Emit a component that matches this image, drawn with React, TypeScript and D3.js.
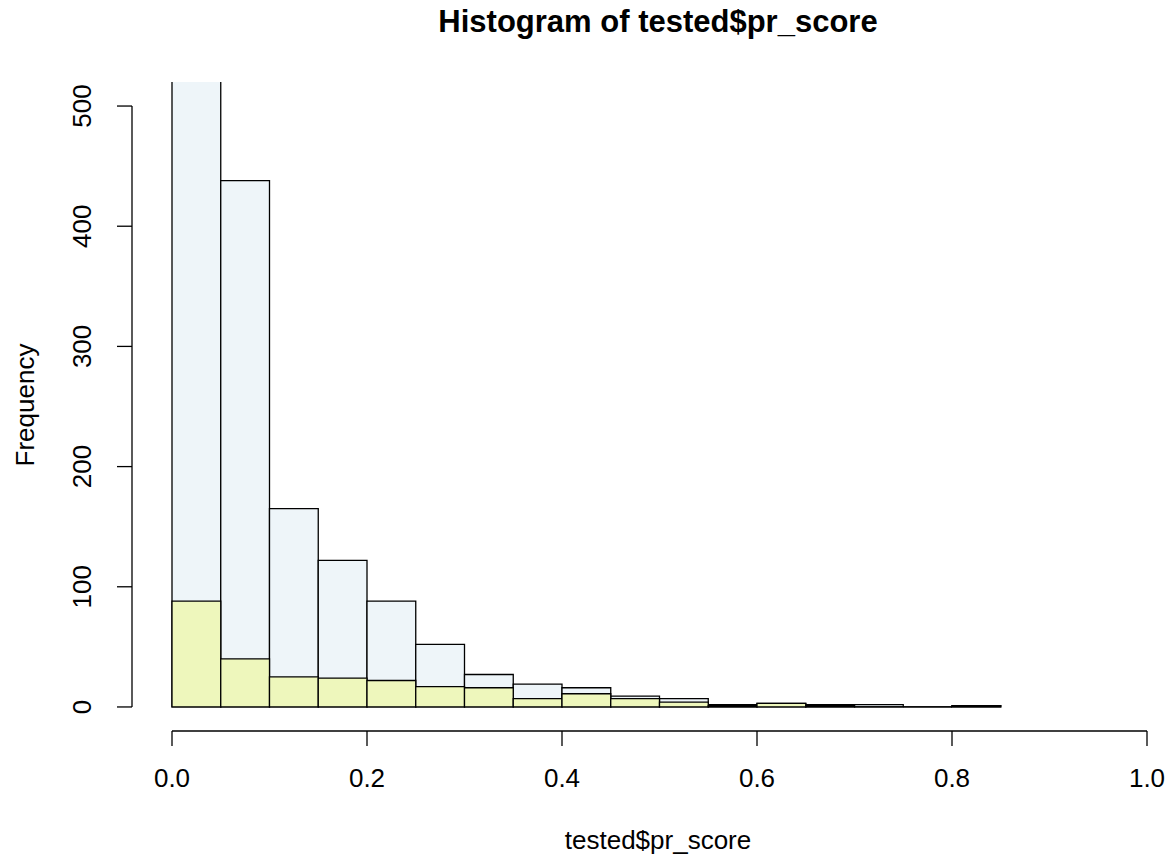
import React from "react";
import * as d3 from "d3";

const breaks = [0, 0.05, 0.1, 0.15, 0.2, 0.25, 0.3, 0.35, 0.4, 0.45, 0.5, 0.55, 0.6, 0.65, 0.7, 0.75, 0.8, 0.85];
const allCounts = [620, 438, 165, 122, 88, 52, 27, 19, 16, 9, 7, 2, 3, 2, 2, 0, 1];
const subsetCounts = [88, 40, 25, 24, 22, 17, 16, 7, 11, 7, 4, 1, 3, 1, 0, 0, 1];
const xTicks = [0, 0.2, 0.4, 0.6, 0.8, 1.0];
const yTicks = [0, 100, 200, 300, 400, 500];

const W = 1173;
const H = 863;
const FONT = "'Liberation Sans', Arial, Helvetica, sans-serif";

export default function App() {
  const x = d3.scaleLinear().domain([-0.04, 1.04]).range([133, 1186]);
  const y = d3.scaleLinear().domain([-20, 520]).range([731, 82]);
  const plotLeft = 133, plotTop = 82, plotBottom = 731;
  const tickLen = 15;

  const bars = (counts: number[], fill: string) =>
    counts.map((c, i) => {
      const x0 = x(breaks[i]);
      const x1 = x(breaks[i + 1]);
      const y0 = y(0);
      const y1 = y(c);
      const p = d3.path();
      p.moveTo(x0, y0);
      p.lineTo(x0, y1);
      p.lineTo(x1, y1);
      p.lineTo(x1, y0);
      p.closePath();
      return (
        <path key={i} d={p.toString()} fill={fill} stroke="#000" strokeWidth={1.3} />
      );
    });

  return (
    <svg width={W} height={H} style={{ position: "absolute", left: 0, top: 0, background: "#fff" }}
      fontFamily={FONT}>
      <defs>
        <clipPath id="plotclip">
          <rect x={plotLeft} y={plotTop} width={W - plotLeft} height={plotBottom - plotTop} />
        </clipPath>
      </defs>
      <text x={658} y={32} textAnchor="middle" fontSize={31} fontWeight="bold" fill="#000">
        Histogram of tested$pr_score
      </text>
      <g clipPath="url(#plotclip)">
        {bars(allCounts, "#EEF5F9")}
        {bars(subsetCounts, "#EEF7BC")}
      </g>
      {/* x axis */}
      <g stroke="#000" strokeWidth={1.3} fill="none">
        <line x1={x(0)} x2={x(1)} y1={731} y2={731} />
        {xTicks.map((t) => (
          <line key={t} x1={x(t)} x2={x(t)} y1={731} y2={731 + tickLen} />
        ))}
      </g>
      {xTicks.map((t) => (
        <text key={t} x={x(t)} y={787} textAnchor="middle" fontSize={26} fill="#000">
          {d3.format(".1f")(t)}
        </text>
      ))}
      {/* y axis */}
      <g stroke="#000" strokeWidth={1.3} fill="none">
        <line x1={132} x2={132} y1={y(0)} y2={y(500)} />
        {yTicks.map((t) => (
          <line key={t} x1={132} x2={132 - tickLen} y1={y(t)} y2={y(t)} />
        ))}
      </g>
      {yTicks.map((t) => (
        <text key={t} transform={`translate(91,${y(t)}) rotate(-90)`} textAnchor="middle"
          fontSize={26} fill="#000">
          {t}
        </text>
      ))}
      <text x={658} y={849} textAnchor="middle" fontSize={26} fill="#000">tested$pr_score</text>
      <text transform={`translate(34,${405}) rotate(-90)`} textAnchor="middle" fontSize={26} fill="#000">
        Frequency
      </text>
    </svg>
  );
}
